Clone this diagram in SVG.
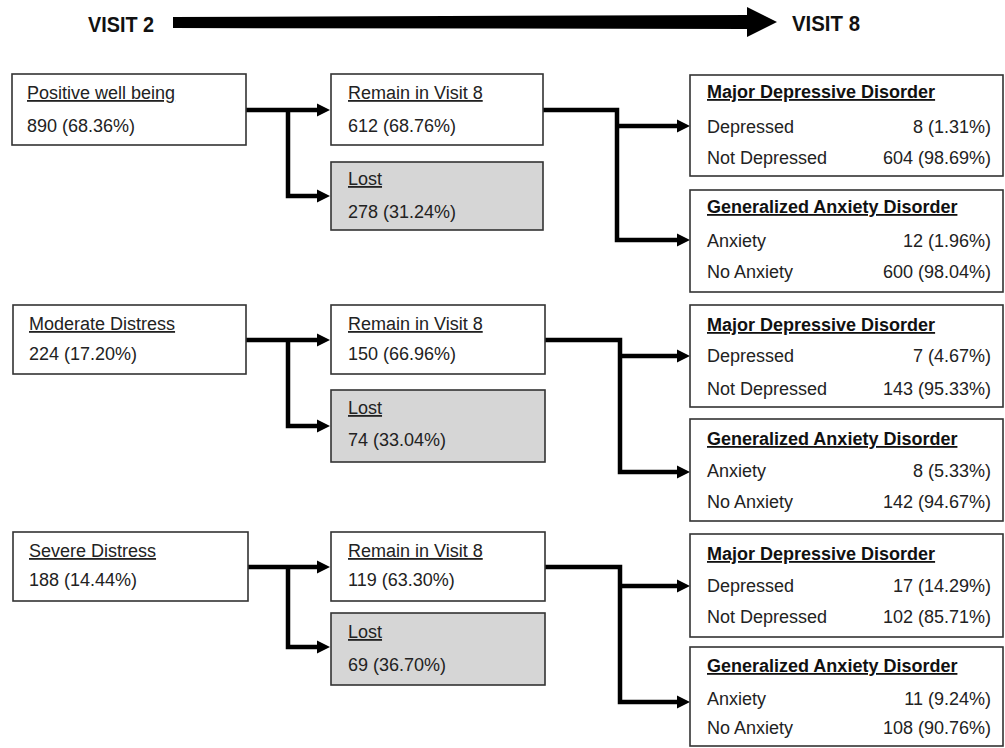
<svg xmlns="http://www.w3.org/2000/svg" width="1005" height="748" viewBox="0 0 1005 748">
<style>
text { font-family: "Liberation Sans", Arial, sans-serif; font-size: 18px; fill: #222; }
.box { fill: #fff; stroke: #333; stroke-width: 1.6; }
.lost { fill: #d6d6d6; stroke: #333; stroke-width: 1.6; }
.ttl { text-decoration: underline; }
.bt { font-weight: bold; text-decoration: underline; fill: #111; }
.val { text-anchor: end; }
.visit { font-weight: bold; font-size: 22px; fill: #111; }
.conn { fill: none; stroke: #000; stroke-width: 4.5; stroke-linejoin: miter; }
</style>
<defs>
<marker id="ah" markerUnits="userSpaceOnUse" markerWidth="14" markerHeight="14" viewBox="0 0 14 14" refX="3" refY="7" orient="auto">
<path d="M0,0.5 L13,7 L0,13.5 z" fill="#000"/>
</marker>
</defs>

<g id="timeline">
<text class="visit" x="88" y="32" textLength="66" lengthAdjust="spacingAndGlyphs">VISIT 2</text>
<polygon points="173,17 748,15 748,29 173,28" fill="#000"/>
<polygon points="747,7 777,22 747,37" fill="#000"/>
<text class="visit" x="792" y="31" textLength="68" lengthAdjust="spacingAndGlyphs">VISIT 8</text>
</g>

<g id="connectors">
<path class="conn" d="M246,110 H320" marker-end="url(#ah)"/>
<path class="conn" d="M288,110 V196 H320" marker-end="url(#ah)"/>
<path class="conn" d="M543,110 H617 V240 H680" marker-end="url(#ah)"/>
<path class="conn" d="M617,126 H680" marker-end="url(#ah)"/>

<path class="conn" d="M246,340 H320" marker-end="url(#ah)"/>
<path class="conn" d="M288,340 V426 H320" marker-end="url(#ah)"/>
<path class="conn" d="M545,340 H620 V472 H680" marker-end="url(#ah)"/>
<path class="conn" d="M620,356 H680" marker-end="url(#ah)"/>

<path class="conn" d="M248,567 H320" marker-end="url(#ah)"/>
<path class="conn" d="M288,567 V647 H320" marker-end="url(#ah)"/>
<path class="conn" d="M545,567 H620 V702 H680" marker-end="url(#ah)"/>
<path class="conn" d="M620,586 H680" marker-end="url(#ah)"/>
</g>

<g id="positive">
<rect class="box" x="12" y="74" width="234" height="71"/>
<text class="ttl" x="27" y="99">Positive well being</text>
<text x="27" y="132">890 (68.36%)</text>
</g>
<g id="remain1">
<rect class="box" x="331" y="74" width="212" height="71"/>
<text class="ttl" x="348" y="99">Remain in Visit 8</text>
<text x="348" y="132">612 (68.76%)</text>
</g>
<g id="lost1">
<rect class="lost" x="331" y="162" width="212" height="68"/>
<text class="ttl" x="348" y="185">Lost</text>
<text x="348" y="218">278 (31.24%)</text>
</g>
<g id="mdd1">
<rect class="box" x="690" y="75" width="313" height="101"/>
<text class="bt" x="707" y="98">Major Depressive Disorder</text>
<text x="707" y="133">Depressed</text>
<text class="val" x="991" y="133">8 (1.31%)</text>
<text x="707" y="164">Not Depressed</text>
<text class="val" x="991" y="164">604 (98.69%)</text>
</g>
<g id="gad1">
<rect class="box" x="690" y="190" width="313" height="102"/>
<text class="bt" x="707" y="213">Generalized Anxiety Disorder</text>
<text x="707" y="247">Anxiety</text>
<text class="val" x="991" y="247">12 (1.96%)</text>
<text x="707" y="278">No Anxiety</text>
<text class="val" x="991" y="278">600 (98.04%)</text>
</g>

<g id="moderate">
<rect class="box" x="13" y="305" width="233" height="69"/>
<text class="ttl" x="29" y="330">Moderate Distress</text>
<text x="29" y="360">224 (17.20%)</text>
</g>
<g id="remain2">
<rect class="box" x="331" y="305" width="214" height="69"/>
<text class="ttl" x="348" y="330">Remain in Visit 8</text>
<text x="348" y="360">150 (66.96%)</text>
</g>
<g id="lost2">
<rect class="lost" x="331" y="390" width="214" height="72"/>
<text class="ttl" x="348" y="414">Lost</text>
<text x="348" y="446">74 (33.04%)</text>
</g>
<g id="mdd2">
<rect class="box" x="690" y="305" width="313" height="102"/>
<text class="bt" x="707" y="331">Major Depressive Disorder</text>
<text x="707" y="362">Depressed</text>
<text class="val" x="991" y="362">7 (4.67%)</text>
<text x="707" y="395">Not Depressed</text>
<text class="val" x="991" y="395">143 (95.33%)</text>
</g>
<g id="gad2">
<rect class="box" x="690" y="419" width="313" height="102"/>
<text class="bt" x="707" y="445">Generalized Anxiety Disorder</text>
<text x="707" y="477">Anxiety</text>
<text class="val" x="991" y="477">8 (5.33%)</text>
<text x="707" y="508">No Anxiety</text>
<text class="val" x="991" y="508">142 (94.67%)</text>
</g>

<g id="severe">
<rect class="box" x="13" y="532" width="235" height="69"/>
<text class="ttl" x="29" y="557">Severe Distress</text>
<text x="29" y="586">188 (14.44%)</text>
</g>
<g id="remain3">
<rect class="box" x="331" y="532" width="214" height="69"/>
<text class="ttl" x="348" y="557">Remain in Visit 8</text>
<text x="348" y="586">119 (63.30%)</text>
</g>
<g id="lost3">
<rect class="lost" x="331" y="613" width="214" height="72"/>
<text class="ttl" x="348" y="638">Lost</text>
<text x="348" y="671">69 (36.70%)</text>
</g>
<g id="mdd3">
<rect class="box" x="690" y="534" width="313" height="103"/>
<text class="bt" x="707" y="560">Major Depressive Disorder</text>
<text x="707" y="592">Depressed</text>
<text class="val" x="991" y="592">17 (14.29%)</text>
<text x="707" y="623">Not Depressed</text>
<text class="val" x="991" y="623">102 (85.71%)</text>
</g>
<g id="gad3">
<rect class="box" x="690" y="647" width="313" height="99"/>
<text class="bt" x="707" y="672">Generalized Anxiety Disorder</text>
<text x="707" y="705">Anxiety</text>
<text class="val" x="991" y="705">11 (9.24%)</text>
<text x="707" y="734">No Anxiety</text>
<text class="val" x="991" y="734">108 (90.76%)</text>
</g>
</svg>
